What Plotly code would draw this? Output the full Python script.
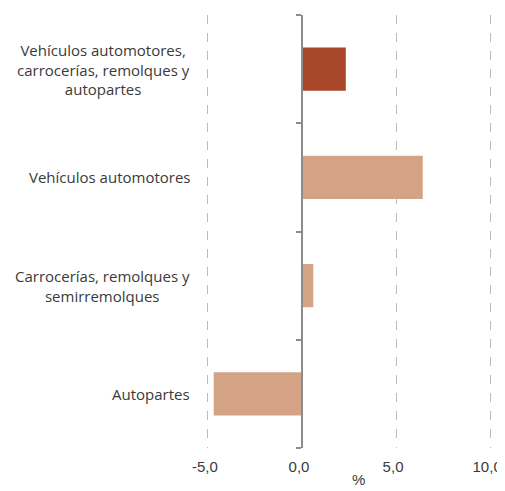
import plotly.graph_objects as go

categories = [
    "Vehículos automotores,<br>carrocerías, remolques y<br>autopartes",
    "Vehículos automotores",
    "Carrocerías, remolques y<br>semirremolques",
    "Autopartes",
]
values = [2.33, 6.42, 0.6, -4.69]
colors = ["#A9472A", "#D4A386", "#D4A386", "#D4A386"]
x_ticks = [-5, 0, 5, 10]
x_tick_labels = ["-5,0", "0,0", "5,0", "10,0"]

pos = list(range(len(categories)))[::-1]  # top to bottom

fig = go.Figure()
fig.add_trace(go.Bar(
    x=values, y=pos, orientation="h", width=0.4,
    marker=dict(color=colors, line=dict(width=0)),
    showlegend=False, hoverinfo="skip",
))

font = dict(family="Open Sans, Liberation Sans, sans-serif", size=15, color="#3A3A3A")
tick_font = dict(family="Liberation Sans, Arial, sans-serif", size=15, color="#3A3A3A")
n = len(categories)
xr = [-5.1, 10.1]

annotations = [dict(
    text=c, x=0, xref="paper", y=p, yref="y", xanchor="right", xshift=-14,
    align="center", showarrow=False, font=font,
) for c, p in zip(categories, pos)]
annotations.append(dict(
    text="%", x=3, xref="x", y=0, yref="paper", yshift=-42,
    yanchor="bottom", showarrow=False, font=tick_font,
))

# page body has an 8px margin, so the figure is sized 8px smaller
fig.update_layout(
    width=497, height=483,
    margin=dict(l=198, r=13, t=7, b=43),
    paper_bgcolor="white", plot_bgcolor="white",
    font=font,
    xaxis=dict(
        range=xr, tickvals=x_ticks, ticktext=x_tick_labels, automargin=False,
        showgrid=True, gridcolor="#BBBBBB", griddash="dash", gridwidth=1,
        zeroline=False, showline=False, ticks="", ticklabelstandoff=8,
        ticklabelshift=-3, tickfont=tick_font,
    ),
    yaxis=dict(
        range=[-0.5, n - 0.5], tickvals=pos, automargin=False,
        showticklabels=False,
        showgrid=False, zeroline=False, showline=False, ticks="",
    ),
    yaxis2=dict(
        range=[-0.5, n - 0.5], overlaying="y", anchor="free", automargin=False,
        position=(0 - xr[0]) / (xr[1] - xr[0]),
        showline=True, linecolor="#8C8C8C", linewidth=2,
        ticks="outside", ticklen=5, tickcolor="#8C8C8C", tickwidth=1.5,
        tickvals=[i - 0.5 for i in range(n + 1)],
        showticklabels=False, showgrid=False, zeroline=False,
    ),
    annotations=annotations,
)
fig.add_trace(go.Scatter(x=[None], y=[None], yaxis="y2", showlegend=False))

fig.write_html("out.html")
